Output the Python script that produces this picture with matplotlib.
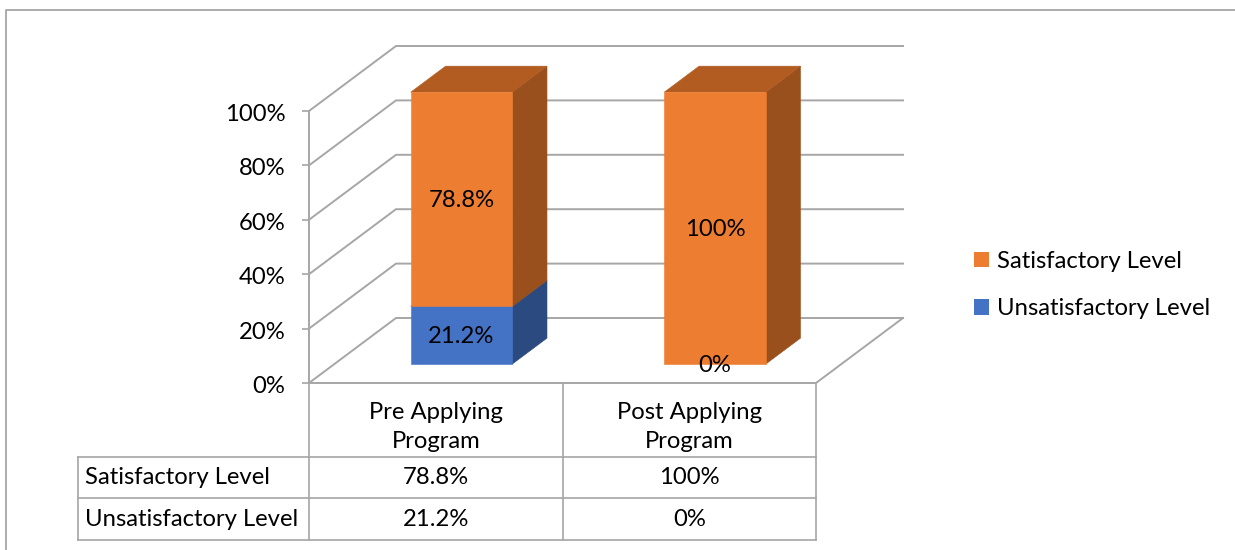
'''
3D looking stacked percent columns with a data table below.
'''

import matplotlib
matplotlib.use('Agg')
import matplotlib.pyplot as plt
from matplotlib.patches import Patch, Polygon
from matplotlib.transforms import ScaledTranslation

# Chart data
categories = ['Pre Applying\nProgram', 'Post Applying\nProgram']
unsatisfactory = [21.2, 0]
satisfactory = [78.8, 100]
unsatisfactory_labels = ['21.2%', '0%']
satisfactory_labels = ['78.8%', '100%']
y_ticks = [0, 20, 40, 60, 80, 100]
y_tick_labels = ['0%', '20%', '40%', '60%', '80%', '100%']
series_names = ['Satisfactory Level', 'Unsatisfactory Level']

# Figure size in pixels
C_W = 1235
C_H = 550

# Front plane of the plot, pixels
C_LEFT, C_RIGHT = 309, 816
C_BOTTOM, C_TOP = 383, 111

# Projection of the depth axis, in data units per unit of depth
C_DEPTH_X = 87 / 253.5
C_DEPTH_Y = 65 / 2.72

# Bars
C_BAR_WIDTH = 0.4
C_BAR_D0, C_BAR_D1 = 0.29, 0.69

C_GRAY = '#A6A6A6'
C_FONT = 'Lato'
C_SIZE = 17.2
C_COLORS = {'orange': ('#ED7D31', '#9A501C', '#B35C22'),
            'blue': ('#4472C4', '#2A4A80', '#34589A')}

plt.rcParams['font.family'] = C_FONT


def project(x, y, depth):
    return x + depth * C_DEPTH_X, y + depth * C_DEPTH_Y


def drawSegment(ax, center, y0, y1, colors):
    '''
    Draws one stacked segment as front, side and top faces.
    '''
    x0 = center - C_BAR_WIDTH / 2
    x1 = center + C_BAR_WIDTH / 2
    front, side, top = colors
    faces = [
        ([(x1, y0, 0), (x1, y0, 1), (x1, y1, 1), (x1, y1, 0)], side),
        ([(x0, y1, 0), (x1, y1, 0), (x1, y1, 1), (x0, y1, 1)], top),
        ([(x0, y0, 0), (x1, y0, 0), (x1, y1, 0), (x0, y1, 0)], front)]

    for face, color in faces:
        points = [project(x, y, C_BAR_D0 + d * (C_BAR_D1 - C_BAR_D0))
                  for x, y, d in face]
        ax.add_patch(Polygon(points, closed=True, facecolor=color,
                             edgecolor=color, lw=0.4, clip_on=False, zorder=3))


fig = plt.figure(figsize=(C_W / 100, C_H / 100), dpi=100)

# Background axes in pixels: frame and data table
bg = fig.add_axes([0, 0, 1, 1])
bg.set_xlim(0, C_W)
bg.set_ylim(C_H, 0)
bg.axis('off')

bg.plot([6, 6, C_W], [C_H, 10, 10], color=C_GRAY, lw=1.3)

table_rows = [457, 498, 540]
table_cols = [C_LEFT, 563, C_RIGHT]
for col in table_cols:
    bg.plot([col, col], [C_BOTTOM, table_rows[-1]], color=C_GRAY, lw=1.2)
bg.plot([78, 78], [table_rows[0], table_rows[-1]], color=C_GRAY, lw=1.2)
for row in table_rows:
    bg.plot([78, C_RIGHT], [row, row], color=C_GRAY, lw=1.2)

for i, category in enumerate(categories):
    center = (table_cols[i] + table_cols[i + 1]) / 2
    bg.text(center, 427, category, ha='center', va='center',
            fontsize=C_SIZE, linespacing=1.42)
    bg.text(center, 478, satisfactory_labels[i], ha='center', va='center',
            fontsize=C_SIZE)
    bg.text(center, 519, unsatisfactory_labels[i], ha='center', va='center',
            fontsize=C_SIZE)

bg.text(85, 478, series_names[0], ha='left', va='center', fontsize=C_SIZE)
bg.text(85, 519, series_names[1], ha='left', va='center', fontsize=C_SIZE)

# Plot axes, its box is the front plane of the 3D chart
ax = fig.add_axes([C_LEFT / C_W, 1 - C_BOTTOM / C_H,
                   (C_RIGHT - C_LEFT) / C_W, (C_BOTTOM - C_TOP) / C_H])
ax.patch.set_alpha(0)
ax.set_xlim(0, 2)
ax.set_ylim(0, 100)
for spine in ax.spines.values():
    spine.set_visible(False)

ax.set_xticks([])
ax.set_yticks(y_ticks)
ax.set_yticklabels(y_tick_labels, fontsize=C_SIZE)
ax.tick_params(axis='y', length=5, width=1.2, color=C_GRAY, pad=12)

# Tick labels sit a little lower than the tick in the original
for label in ax.get_yticklabels():
    label.set_transform(label.get_transform() +
                        ScaledTranslation(0, -0.015, fig.dpi_scale_trans))

# Walls and gridlines
for tick in y_ticks:
    back_x, back_y = project(0, tick, 1)
    ax.plot([0, back_x, 2 + C_DEPTH_X], [tick, back_y, back_y], color=C_GRAY,
            lw=1.4, clip_on=False, zorder=1, solid_joinstyle='miter')

# Floor and value axis
floor_x, floor_y = project(2, 0, 1)
ax.plot([0, 0], [0, 100], color=C_GRAY, lw=1.4, clip_on=False, zorder=1)
ax.plot([0, 2, floor_x], [0, 0, floor_y], color=C_GRAY, lw=1.4,
        clip_on=False, zorder=1)

# Stacked bars with labels
for i in range(len(categories)):
    center = i + 0.502
    blue_top = unsatisfactory[i]
    orange_top = blue_top + satisfactory[i]

    if blue_top > 0:
        drawSegment(ax, center, 0, blue_top, C_COLORS['blue'])
    drawSegment(ax, center, blue_top, orange_top, C_COLORS['orange'])

    label_x, label_y = project(center, 0, C_BAR_D0)
    label_y -= 0.6
    ax.text(label_x, label_y + blue_top / 2, unsatisfactory_labels[i],
            ha='center', va='center', fontsize=C_SIZE, zorder=5, clip_on=False)
    ax.text(label_x, label_y + blue_top + satisfactory[i] / 2,
            satisfactory_labels[i], ha='center', va='center',
            fontsize=C_SIZE, zorder=5, clip_on=False)

# Legend
handles = [Patch(facecolor=C_COLORS['orange'][0], label=series_names[0]),
           Patch(facecolor=C_COLORS['blue'][0], label=series_names[1])]
fig.legend(handles=handles, loc='center left', frameon=False,
           bbox_to_anchor=(955 / C_W, 1 - 285 / C_H), fontsize=C_SIZE,
           handlelength=0.63, handleheight=0.63, handletextpad=0.33,
           labelspacing=1.1, borderpad=0.3)

plt.savefig('out.png', dpi=100)
